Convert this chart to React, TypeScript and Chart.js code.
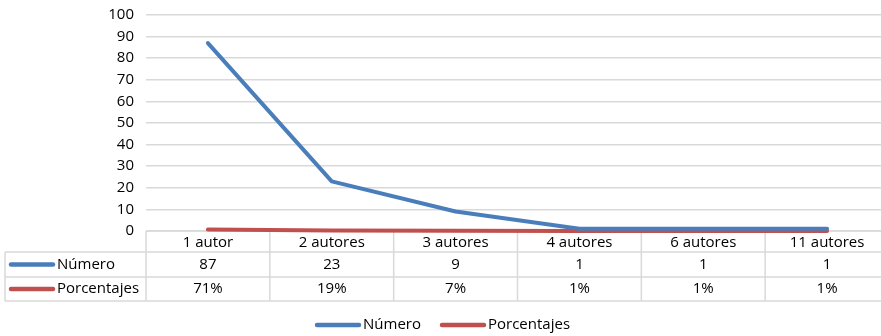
import React, { useEffect, useRef } from "react";
import { Chart, registerables } from "chart.js";

Chart.register(...registerables);

const categories = ["1 autor", "2 autores", "3 autores", "4 autores", "6 autores", "11 autores"];
const numero = [87, 23, 9, 1, 1, 1];
const porcentajes = [0.71, 0.19, 0.07, 0.01, 0.01, 0.01];
const porcentajesLabels = ["71%", "19%", "7%", "1%", "1%", "1%"];
const seriesNames = ["Número", "Porcentajes"];
const colors = ["#4A7EBB", "#C0504D"];

const FAMILY = "'Open Sans'";
const FONT = "15px 'Open Sans'";
const TEXT = "#000000";
const GRID = "#d9d9d9";

function tableGeom(chart: any) {
  const x = chart.scales.x;
  const area = chart.chartArea;
  const n = categories.length;
  const step = n > 1 ? x.getPixelForValue(1) - x.getPixelForValue(0) : area.right - area.left;
  const top = area.bottom;
  const r1 = top + 21;
  const r2 = r1 + 25;
  const r3 = r2 + 24;
  return { x, area, n, step, top, r1, r2, r3 };
}

const tablePlugin = {
  id: "dataTable",
  beforeDatasetsDraw(chart: any) {
    const { x, area, n, step, top, r1, r2, r3 } = tableGeom(chart);
    const ctx = chart.ctx;
    const leftKey = 5;
    ctx.save();
    ctx.strokeStyle = GRID;
    ctx.lineWidth = 1.5;
    ctx.beginPath();
    ctx.moveTo(area.left, top); ctx.lineTo(area.right + 10, top);
    [r1, r2, r3].forEach((y) => { ctx.moveTo(leftKey, y); ctx.lineTo(area.right + 10, y); });
    ctx.moveTo(leftKey, r1); ctx.lineTo(leftKey, r3);
    for (let i = 0; i <= n; i++) {
      const xx = x.getPixelForValue(0) - step / 2 + i * step;
      ctx.moveTo(xx, top); ctx.lineTo(xx, r3);
    }
    ctx.stroke();
    ctx.restore();
  },
  afterDraw(chart: any) {
    const { x, top, r1, r2, r3 } = tableGeom(chart);
    const ctx = chart.ctx;
    ctx.save();
    ctx.font = FONT;
    ctx.fillStyle = TEXT;
    ctx.textAlign = "center";
    ctx.textBaseline = "middle";
    categories.forEach((c, i) => {
      const cx = x.getPixelForValue(i);
      ctx.fillText(c, cx, (top + r1) / 2 + 1);
      ctx.fillText(String(numero[i]), cx, (r1 + r2) / 2);
      ctx.fillText(porcentajesLabels[i], cx, (r2 + r3) / 2);
    });

    const rows = [(r1 + r2) / 2, (r2 + r3) / 2];
    ctx.lineCap = "round";
    rows.forEach((y, k) => {
      ctx.strokeStyle = colors[k];
      ctx.lineWidth = 4.5;
      ctx.beginPath();
      ctx.moveTo(11, y); ctx.lineTo(53, y);
      ctx.stroke();
      ctx.textAlign = "left";
      ctx.fillStyle = TEXT;
      ctx.fillText(seriesNames[k], 57, y);
    });

    const ly = 325;
    const legendX = [316, 441];
    legendX.forEach((lx, k) => {
      ctx.strokeStyle = colors[k];
      ctx.lineWidth = 4.5;
      ctx.beginPath();
      ctx.moveTo(lx + 1, ly); ctx.lineTo(lx + 43, ly);
      ctx.stroke();
      ctx.textAlign = "left";
      ctx.fillStyle = TEXT;
      ctx.fillText(seriesNames[k], lx + 47, ly);
    });
    ctx.restore();
  },
};

export default function App() {
  const ref = useRef<HTMLCanvasElement | null>(null);
  useEffect(() => {
    if (!ref.current) return;
    const chart = new Chart(ref.current, {
      type: "line",
      data: {
        labels: categories,
        datasets: [
          { label: seriesNames[0], data: numero, borderColor: colors[0], backgroundColor: colors[0], borderWidth: 4, pointRadius: 0, tension: 0, borderCapStyle: "round", borderJoinStyle: "round", clip: false },
          { label: seriesNames[1], data: porcentajes, borderColor: colors[1], backgroundColor: colors[1], borderWidth: 4, pointRadius: 0, tension: 0, borderCapStyle: "round", borderJoinStyle: "round", clip: false },
        ],
      },
      options: {
        responsive: false,
        animation: false,
        layout: { padding: { left: 0, right: 1, top: 15, bottom: 105 } },
        plugins: { legend: { display: false }, tooltip: { enabled: false } },
        scales: {
          x: { display: false, offset: true },
          y: {
            min: 0,
            max: 100,
            ticks: { stepSize: 10, color: TEXT, font: { family: FAMILY, size: 15 }, padding: 12 },
            grid: { color: GRID, lineWidth: 1.5, drawTicks: false },
            border: { display: false },
            afterFit(scale: any) {
              scale.width = 146;
              scale.paddingTop = 0;
              scale.paddingBottom = 0;
            },
          },
        },
      },
      plugins: [tablePlugin],
    });
    return () => chart.destroy();
  }, []);
  return (
    <div style={{ position: "fixed", left: 0, top: 0, width: 881, height: 336, overflow: "hidden", background: "#fff" }}>
      <canvas ref={ref} width={890} height={336} style={{ display: "block", width: 890, height: 336 }} />
    </div>
  );
}
